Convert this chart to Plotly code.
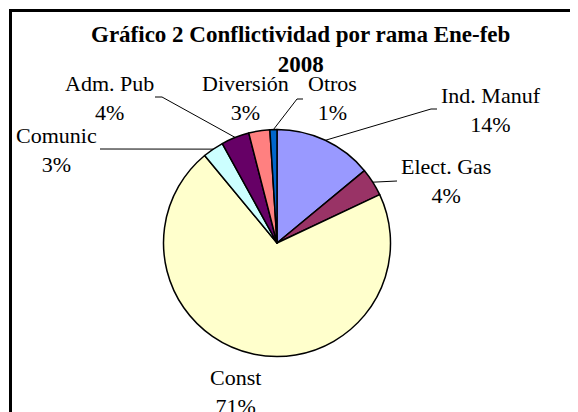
import math
import plotly.graph_objects as go

# page body has an 8px margin, so the figure is drawn 8px smaller and shifted
OFF = 8
W, H = 578 - OFF, 412 - OFF

# ---- data ----
categories = ["Ind. Manuf", "Elect. Gas", "Const", "Comunic", "Adm. Pub", "Diversión", "Otros"]
values = [14, 4, 71, 3, 4, 3, 1]
colors = ["#9999FF", "#993366", "#FFFFCC", "#CCFFFF", "#660066", "#FF8080", "#0066CC"]
title_text = "Gráfico 2 Conflictividad por rama Ene-feb<br>2008"

# ---- layout constants (window pixels) ----
CX, CY, R = 277, 243, 113.5
label_pos = [(491, 110), (446, 181), (235, 392), (56, 150), (109, 98), (245, 98), (332, 98)]
elbows = [[(437, 109), (431, 109)],
          [(397, 181)],
          None,
          [(100, 149)],
          [(155, 97), (162, 97)],
          None,
          [(303, 99), (297, 99)]]


def px(x):
    return (x - OFF) / W


def py(y):
    return 1 - (y - OFF) / H


fig = go.Figure(go.Pie(
    labels=categories,
    values=values,
    sort=False,
    direction="clockwise",
    rotation=0,
    marker=dict(colors=colors, line=dict(color="black", width=1.5)),
    textinfo="none",
    showlegend=False,
    domain=dict(x=[px(CX - R), px(CX + R)], y=[py(CY + R), py(CY - R)]),
))

total = sum(values)
shapes = []
annotations = []
cum = 0
for i, v in enumerate(values):
    pct = v / total * 100
    mid = (cum + v / 2) / total * 2 * math.pi
    cum += v
    ex = CX + R * math.sin(mid)
    ey = CY - R * math.cos(mid)
    lx, ly = label_pos[i]
    annotations.append(dict(
        x=px(lx), y=py(ly), xref="paper", yref="paper",
        xanchor="center", yanchor="middle", showarrow=False,
        text=f"{categories[i]}<br>{pct:.0f}%",
        font=dict(family="Liberation Serif", size=22, color="black"),
    ))
    if elbows[i]:
        pts = elbows[i] + [(ex, ey)]
        path = "M " + " L ".join(f"{px(x)},{py(y)}" for x, y in pts)
        shapes.append(dict(type="path", xref="paper", yref="paper", path=path,
                           line=dict(color="black", width=1)))

# frame (left and top edges)
shapes.append(dict(type="line", xref="paper", yref="paper", x0=px(10.5), x1=px(10.5), y0=py(9.5), y1=py(420),
                   line=dict(color="black", width=3)))
shapes.append(dict(type="line", xref="paper", yref="paper", x0=px(9), x1=px(590), y0=py(10.5), y1=py(10.5),
                   line=dict(color="black", width=3)))

annotations.append(dict(
    x=px(300), y=py(50), xref="paper", yref="paper", xanchor="center", yanchor="middle",
    showarrow=False, text=title_text,
    font=dict(family="Liberation Serif", size=23, color="black", weight="bold"),
))

fig.update_layout(
    width=W, height=H,
    margin=dict(l=0, r=0, t=0, b=0),
    paper_bgcolor="white", plot_bgcolor="white",
    shapes=shapes, annotations=annotations,
)

fig.write_html("out.html")
